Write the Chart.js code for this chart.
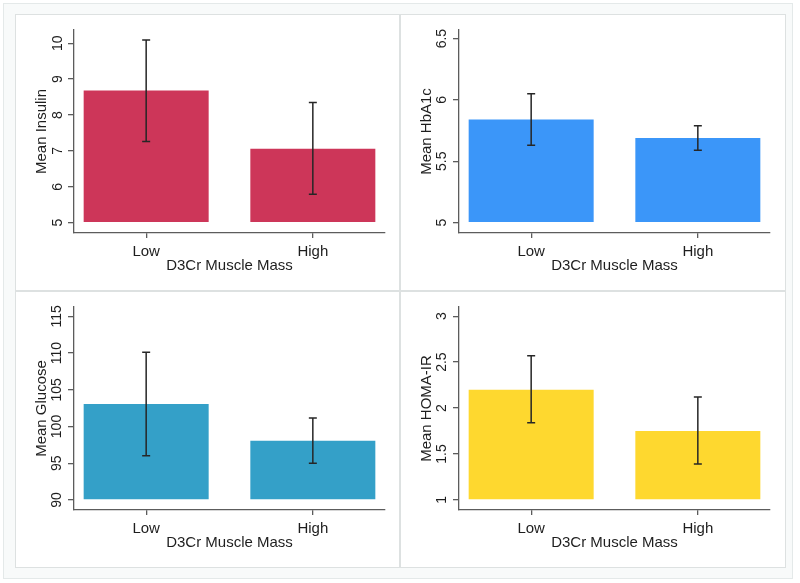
<!DOCTYPE html>
<html>
<head>
<meta charset="utf-8">
<script src="https://cdn.jsdelivr.net/npm/chart.js@4/dist/chart.umd.min.js"></script>
<style>
  html, body { margin: 0; padding: 0; background: #fff; }
  body { width: 800px; height: 583px; position: relative; overflow: hidden; }
  .frame { position: absolute; left: 3px; top: 3px; width: 790px; height: 576px; box-sizing: border-box;
           border: 1px solid #e4e9e9; background: #f8fafa; }
  .panel { position: absolute; box-sizing: border-box; border: 1px solid #dde1e1; background: #fff; }
  canvas { position: absolute; }
</style>
</head>
<body>
<div class="frame"></div>
<div class="panel" style="left:15px;top:14px;width:385px;height:277px"></div>
<div class="panel" style="left:400px;top:14px;width:386px;height:277px"></div>
<div class="panel" style="left:15px;top:291px;width:385px;height:277px"></div>
<div class="panel" style="left:400px;top:291px;width:386px;height:277px"></div>
<canvas id="insulinChart" width="383" height="275" style="left:16px;top:15px"></canvas>
<canvas id="hba1cChart" width="384" height="275" style="left:401px;top:15px"></canvas>
<canvas id="glucoseChart" width="383" height="275" style="left:16px;top:292px"></canvas>
<canvas id="homaChart" width="384" height="275" style="left:401px;top:292px"></canvas>
<script>
// 데이터
const groups = ['Low', 'High'];
const xTitle = 'D3Cr Muscle Mass';

const insulinMean = [8.68, 7.06];
const insulinLow = [7.26, 5.79];
const insulinHigh = [10.09, 8.35];
const insulinTicks = [5, 6, 7, 8, 9, 10];

const hba1cMean = [5.84, 5.69];
const hba1cLow = [5.63, 5.59];
const hba1cHigh = [6.05, 5.79];
const hba1cTicks = [5, 5.5, 6, 6.5];

const glucoseMean = [103.07, 98.06];
const glucoseLow = [96.0, 95.0];
const glucoseHigh = [110.1, 101.16];
const glucoseTicks = [90, 95, 100, 105, 110, 115];

const homaMean = [2.20, 1.75];
const homaLow = [1.84, 1.39];
const homaHigh = [2.57, 2.12];
const homaTicks = [1, 1.5, 2, 2.5, 3];

const FONT = "'Liberation Sans', Arial, sans-serif";
const AXIS = '#5c5c5c';
const TEXT = '#1e1e1e';

// 오차 막대
const errorBars = {
  id: 'errorBars',
  afterDatasetsDraw(chart) {
    const ctx = chart.ctx;
    const y = chart.scales.y;
    chart.data.datasets.forEach((ds, di) => {
      const meta = chart.getDatasetMeta(di);
      meta.data.forEach((bar, i) => {
        const top = y.getPixelForValue(ds.errHigh[i]);
        const bottom = y.getPixelForValue(ds.errLow[i]);
        ctx.save();
        ctx.strokeStyle = '#262626';
        ctx.lineWidth = 1.5;
        ctx.beginPath();
        ctx.moveTo(bar.x, top);
        ctx.lineTo(bar.x, bottom);
        ctx.moveTo(bar.x - 4, top);
        ctx.lineTo(bar.x + 4, top);
        ctx.moveTo(bar.x - 4, bottom);
        ctx.lineTo(bar.x + 4, bottom);
        ctx.stroke();
        ctx.restore();
      });
    });
  }
};

function makePanel(id, yLabel, means, lows, highs, ticks, base, yMin, yMax, color, tickPad, rightPad) {
  const el = document.getElementById(id);
  if (!el) return;
  new Chart(el, {
    type: 'bar',
    data: {
      datasets: [{
        data: groups.map((g, i) => ({ x: i + 1, y: means[i] })),
        errLow: lows,
        errHigh: highs,
        base: base,
        backgroundColor: color,
        borderColor: color,
        borderWidth: 0,
        barPercentage: 0.75,
        categoryPercentage: 1
      }]
    },
    options: {
      responsive: false,
      animation: false,
      events: [],
      layout: { padding: { top: 15, right: rightPad, bottom: 0, left: 0 } },
      plugins: { legend: { display: false }, tooltip: { enabled: false } },
      scales: {
        x: {
          type: 'linear',
          offset: false,
          min: 0.567,
          max: 2.433,
          afterBuildTicks: s => { s.ticks = groups.map((g, i) => ({ value: i + 1 })); },
          afterFit: s => { s.height = 57; },
          grid: { display: true, offset: false, drawOnChartArea: false, drawTicks: true, tickLength: 5, color: AXIS, lineWidth: 1.3 },
          border: { display: true, color: AXIS, width: 1.3 },
          ticks: {
            autoSkip: false,
            padding: 5,
            color: TEXT,
            font: { family: FONT, size: 15 },
            callback: v => groups[v - 1] || ''
          },
          title: {
            display: true,
            text: xTitle,
            color: TEXT,
            font: { family: FONT, size: 15 },
            padding: { top: 0, bottom: 15 }
          }
        },
        y: {
          min: yMin,
          max: yMax,
          afterBuildTicks: s => { s.ticks = ticks.map(v => ({ value: v })); },
          afterFit: s => { s.width = 58; },
          grid: { display: true, drawOnChartArea: false, drawTicks: true, tickLength: 6, color: AXIS, lineWidth: 1.3 },
          border: { display: true, color: AXIS, width: 1.3 },
          ticks: {
            autoSkip: false,
            minRotation: 90,
            maxRotation: 90,
            crossAlign: 'center',
            padding: tickPad,
            color: TEXT,
            font: { family: FONT, size: 14 },
            callback: v => String(v)
          },
          title: {
            display: true,
            text: yLabel,
            color: TEXT,
            font: { family: FONT, size: 15 },
            padding: { top: 17, bottom: 0 }
          }
        }
      }
    },
    plugins: [errorBars]
  });
}

document.addEventListener('DOMContentLoaded', function() {
  makePanel('insulinChart', 'Mean Insulin', insulinMean, insulinLow, insulinHigh, insulinTicks, 5, 4.71, 10.37, '#cd3659', 2.5, 14);
  makePanel('hba1cChart', 'Mean HbA1c', hba1cMean, hba1cLow, hba1cHigh, hba1cTicks, 5, 4.915, 6.57, '#3b96f9', 0.8, 15);
  makePanel('glucoseChart', 'Mean Glucose', glucoseMean, glucoseLow, glucoseHigh, glucoseTicks, 90, 88.63, 116.27, '#34a0c8', -1.2, 14);
  makePanel('homaChart', 'Mean HOMA-IR', homaMean, homaLow, homaHigh, homaTicks, 1, 0.89, 3.10, '#fed82f', 0.8, 15);
});
</script>
</body>
</html>
